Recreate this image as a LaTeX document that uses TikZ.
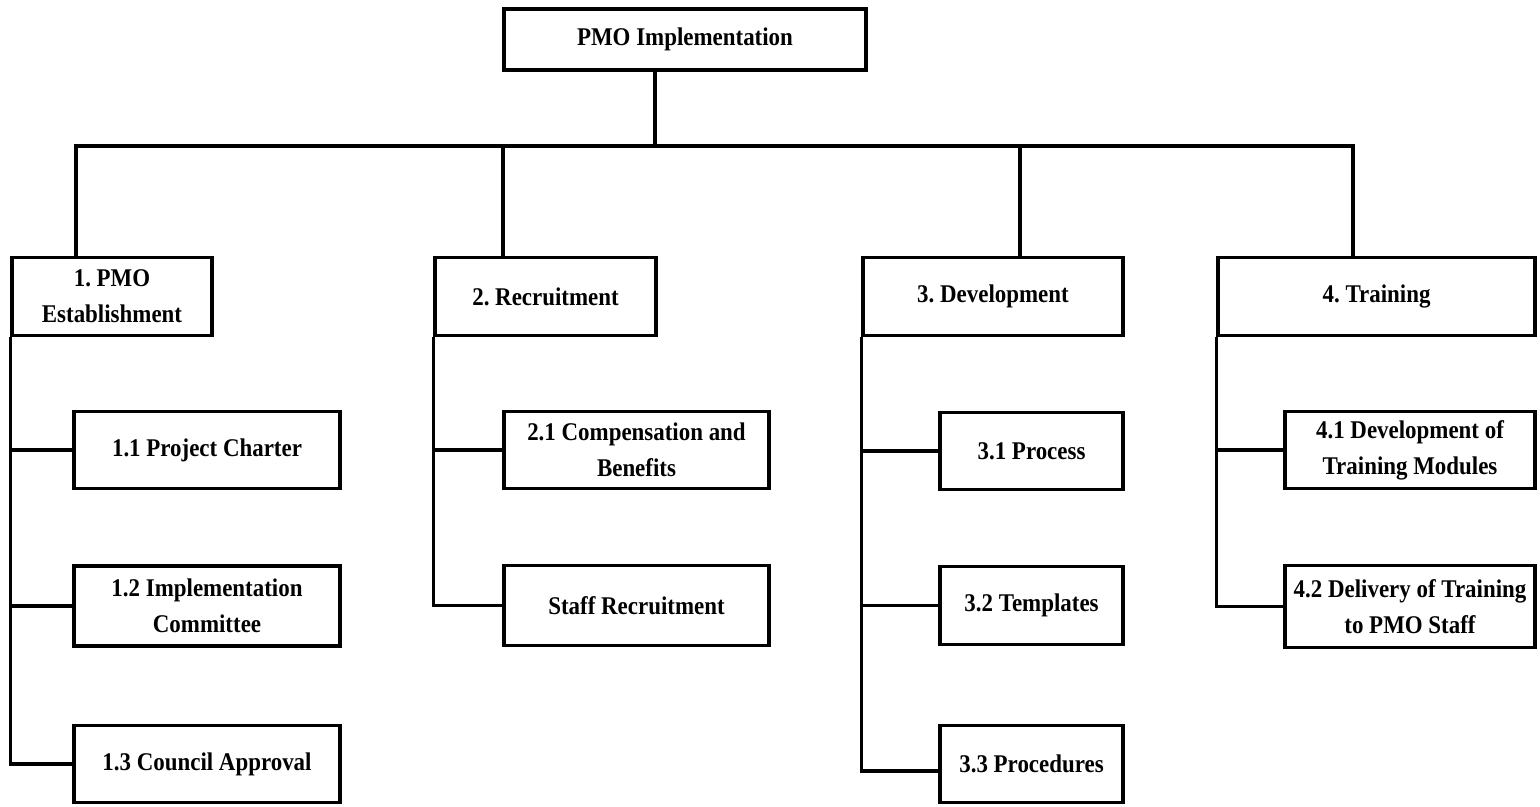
\documentclass[tikz,border=0pt]{standalone}
\usepackage{fontspec}
\setmainfont{Liberation Serif}[FakeStretch=0.9]
\frenchspacing

\begin{document}
\begin{tikzpicture}[x=.02cm,y=-.02cm,line width=1.9pt,
  font=\bfseries\fontsize{14.5}{20.4}\selectfont,
  box/.style={draw,align=center,inner sep=2pt,minimum height=1.55cm}]
  \useasboundingbox (0,0) rectangle (1540,806);
  \node[box,minimum width=7.24cm,minimum height=1.22cm] (pmo) at (685,39.5) {PMO Implementation};
  \node[box,minimum width=4cm] (est) at (112,296.5) {1. PMO\\Establishment};
  \node[box,minimum width=4.42cm] (rec) at (545.5,296.5) {2. Recruitment};
  \node[box,minimum width=5.2cm] (dev) at (993,296.5) {3. Development};
  \node[box,minimum width=6.34cm] (trn) at (1376.5,296.5) {4. Training};
  \node[box,minimum width=5.32cm] (est1) at (207,450) {1.1 Project Charter};
  \node[box,minimum width=5.32cm,minimum height=1.6cm] (est2) at (207,606) {1.2 Implementation\\Committee};
  \node[box,minimum width=5.32cm] (est3) at (207,764) {1.3 Council Approval};
  \node[box,minimum width=5.3cm] (rec1) at (636.5,450) {2.1 Compensation and\\Benefits};
  \node[box,minimum width=5.3cm,minimum height=1.6cm] (rec2) at (636.5,605.5) {Staff Recruitment};
  \node[box,minimum width=3.66cm] (dev1) at (1031.5,451) {3.1 Process};
  \node[box,minimum width=3.66cm] (dev2) at (1031.5,605.5) {3.2 Templates};
  \node[box,minimum width=3.66cm] (dev3) at (1031.5,764) {3.3 Procedures};
  \node[box,minimum width=5cm] (trn1) at (1410,450) {4.1 Development of\\Training Modules};
  \node[box,minimum width=5cm,minimum height=1.64cm] (trn2) at (1410,606.5) {4.2 Delivery of Training\\to PMO Staff};

  \coordinate (hub) at (655,146);
  \coordinate (bus1) at (76,146);
  \coordinate (bus2) at (503,146);
  \coordinate (bus3) at (1020,146);
  \coordinate (bus4) at (1353,146);
  \draw (pmo.south -| hub) -- (hub);
  \draw (est.north -| bus1) -- (bus1) -- (bus4) -- (trn.north -| bus4);
  \draw (bus2) -- (rec.north -| bus2);
  \draw (bus3) -- (dev.north -| bus3);

  \draw (est.south west) |- (est3.west);
  \draw (rec.south west) |- (rec2.west);
  \draw (dev.south west) |- ([yshift=-4pt]dev3.west);
  \draw (trn.south west) |- (trn2.west);
  \foreach \p/\c in {est/est1,est/est2,rec/rec1,dev/dev1,dev/dev2,trn/trn1}
    \draw (\p.south west |- \c.west) -- (\c.west);
\end{tikzpicture}
\end{document}
